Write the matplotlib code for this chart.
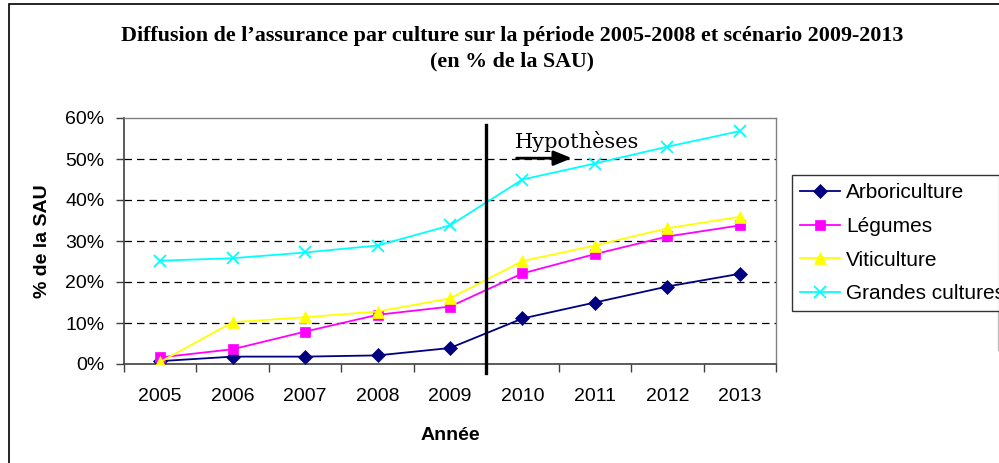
import matplotlib
matplotlib.use("Agg")
import matplotlib.pyplot as plt
from matplotlib.patches import Rectangle
from matplotlib.lines import Line2D

years = ["2005", "2006", "2007", "2008", "2009", "2010", "2011", "2012", "2013"]
arboriculture = [0.7, 1.8, 1.8, 2.1, 3.9, 11.1, 15.0, 18.9, 22.0]
legumes = [1.6, 3.6, 7.9, 12.0, 14.0, 22.1, 26.8, 31.1, 33.8]
viticulture = [0.5, 10.2, 11.4, 12.8, 16.0, 25.1, 28.9, 33.1, 35.9]
grandes_cultures = [25.2, 25.8, 27.2, 28.9, 33.8, 45.0, 48.9, 53.0, 56.8]
series_names = ["Arboriculture", "Légumes", "Viticulture", "Grandes cultures"]
yticks = [0, 10, 20, 30, 40, 50, 60]

W, H = 999, 463
fig = plt.figure(figsize=(W / 100, H / 100), dpi=100)
fig.patch.set_facecolor("white")

# outer frame (cropped at right and bottom)
fig.patches.append(Rectangle((9 / W, -0.1), 1.2, 1 - 4 / H + 0.1, transform=fig.transFigure,
                             fill=False, edgecolor="black", linewidth=1.2))

ax = fig.add_axes([124 / W, 1 - 364 / H, 652 / W, 246 / H])
x = list(range(len(years)))
styles = [
    (arboriculture, "#000080", "D", 7),
    (legumes, "#FF00FF", "s", 7.5),
    (viticulture, "#FFFF00", "^", 9),
    (grandes_cultures, "#00FFFF", "x", 8),
]
for (vals, col, mk, ms), name in zip(styles, series_names):
    ax.plot(x, vals, color=col, marker=mk, markersize=ms, linewidth=1.3,
            markeredgewidth=1.3 if mk == "x" else 0.5, markeredgecolor=col, label=name,
            zorder=3)

ax.set_xlim(-0.5, len(years) - 0.5)
ax.set_ylim(0, 60)
ax.set_yticks(yticks)
ax.set_yticklabels([f"{v}%" for v in yticks], fontsize=14, family="Liberation Sans")
ax.set_xticks(x)
ax.set_xticklabels(years, fontsize=14, family="Liberation Sans")
ax.set_xticks([i - 0.5 for i in range(len(years) + 1)], minor=True)
ax.tick_params(axis="x", which="major", length=0, pad=17)
ax.tick_params(axis="x", which="minor", length=6, width=1, color="#404040", direction="out")
ax.tick_params(axis="y", length=6, width=1, color="#404040", direction="out", pad=8)
for v in yticks[1:-1]:
    ax.axhline(v, color="black", linestyle=(0, (6, 4)), linewidth=0.9, zorder=1)
for s in ["left", "bottom"]:
    ax.spines[s].set_color("#404040")
    ax.spines[s].set_linewidth(1.2)
for s in ["top", "right"]:
    ax.spines[s].set_color("#808080")
    ax.spines[s].set_linewidth(1.0)

# separation line between observed and scenario
ax.plot([4.5, 4.5], [-2.2, 58.3], color="black", linewidth=2.4, clip_on=False, zorder=4)
ax.text(4.9, 54.3, "Hypothèses", fontsize=15, family="DejaVu Serif", va="center", ha="left")
ax.annotate("", xy=(5.72, 50.2), xytext=(4.88, 50.2),
            arrowprops=dict(arrowstyle="-|>,head_length=1.1,head_width=0.45", color="black", lw=2))

ax.set_xlabel("Année", fontsize=14, fontweight="bold", family="Liberation Sans", labelpad=16)
ax.set_ylabel("% de la SAU", fontsize=14, fontweight="bold", family="Liberation Sans", labelpad=10)

fig.text(512 / W, 1 - 36 / H, "Diffusion de l’assurance par culture sur la période 2005-2008 et scénario 2009-2013",
         ha="center", va="center", fontsize=15.8, fontweight="bold", family="Liberation Serif")
fig.text(512 / W, 1 - 61 / H, "(en % de la SAU)",
         ha="center", va="center", fontsize=15.8, fontweight="bold", family="Liberation Serif")

leg = fig.legend(loc="upper left", bbox_to_anchor=(792 / W, 1 - 175 / H), borderaxespad=0,
                 prop={"family": "Liberation Sans", "size": 15}, frameon=True, fancybox=False,
                 edgecolor="black", handlelength=1.9, handletextpad=0.3, labelspacing=0.7,
                 borderpad=0.4)
leg.get_frame().set_linewidth(1.0)

# thin border of the chart area at right edge
fig.add_artist(Line2D([997.5 / W, 997.5 / W], [1 - 350 / H, 1 - 177 / H], color="#c0c0c0", linewidth=1))

fig.savefig("out.png", dpi=100)
